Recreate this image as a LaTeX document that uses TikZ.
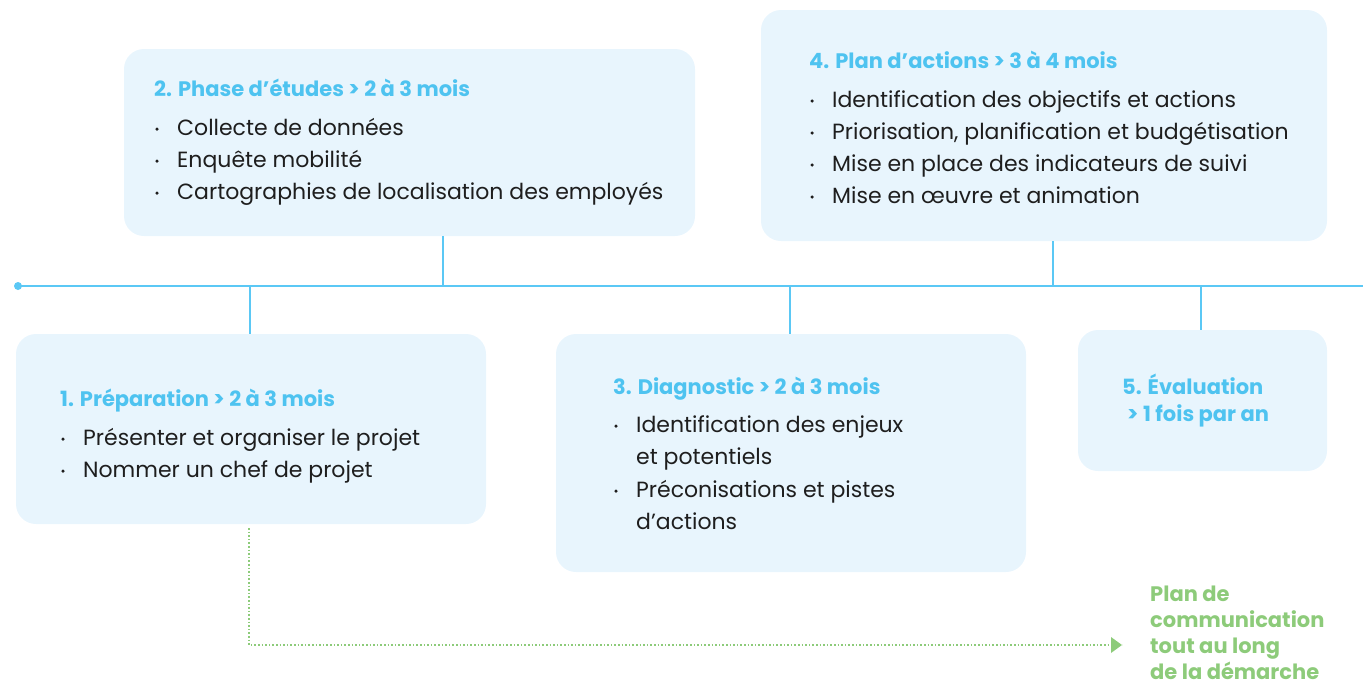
\documentclass[tikz,border=0pt]{standalone}
\usepackage{fontspec}
\setmainfont{Poppins}
\usetikzlibrary{arrows.meta}
\definecolor{boxfill}{HTML}{E8F5FD}
\definecolor{headblue}{HTML}{4EC3F0}
\definecolor{lineblue}{HTML}{5BC8F5}
\definecolor{txt}{HTML}{1E1E1E}
\definecolor{green}{HTML}{8DCB7A}
\tikzset{
  phase/.style={fill=boxfill, draw=none, rounded corners=20pt, inner sep=0pt},
  head/.style={anchor=base west, inner sep=0pt, font=\fontsize{21}{25}\selectfont\bfseries, text=headblue},
  item/.style={anchor=base west, inner sep=0pt, font=\fontsize{22}{26}\selectfont, text=txt},
  bul/.style={circle, fill=txt, inner sep=0pt, minimum size=3.5pt},
  tl/.style={draw=lineblue, line width=2pt},
  comm/.style={draw=green, line width=1.6pt, dotted},
}
\begin{document}
\begin{tikzpicture}[x=1pt,y=-1pt]
\useasboundingbox (0,0) rectangle (1363,686);
% boxes
\node[phase, minimum width=571pt, minimum height=187pt] (b2) at (409.5,142.5) {};
\node[phase, minimum width=566pt, minimum height=231pt] (b4) at (1044,125.5) {};
\node[phase, minimum width=470pt, minimum height=190pt] (b1) at (251,429) {};
\node[phase, minimum width=470pt, minimum height=238pt] (b3) at (791,453) {};
\node[phase, minimum width=249pt, minimum height=141pt] (b5) at (1202.5,400.5) {};
% timeline
\coordinate (t0) at (18,286);
\coordinate (t1) at (1363,286);
\fill[lineblue] (t0) circle (4pt);
\draw[tl] (t0) -- (t1);
\coordinate (c1) at (250,286);
\coordinate (c2) at (443,286);
\coordinate (c3) at (790,286);
\coordinate (c4) at (1053,286);
\coordinate (c5) at (1201,286);
\draw[tl] (c1) -- (c1 |- b1.north);
\draw[tl] (c2) -- (c2 |- b2.south);
\draw[tl] (c3) -- (c3 |- b3.north);
\draw[tl] (c4) -- (c4 |- b4.south);
\draw[tl] (c5) -- (c5 |- b5.north);
% box 2
\node[head] (h2) at (154,96) {2. Phase d’études > 2 à 3 mois};
\node[bul] (d21) at (157,129) {};
\node[item] (i21) at (177,135) {Collecte de données};
\node[bul] (d22) at (157,161) {};
\node[item] (i22) at (177,167) {Enquête mobilité};
\node[bul] (d23) at (157,193) {};
\node[item] (i23) at (177,199) {Cartographies de localisation des employés};
% box 4
\node[head] (h4) at (809,68) {4. Plan d’actions > 3 à 4 mois};
\node[bul] (d41) at (812,101) {};
\node[item] (i41) at (832,107) {Identification des objectifs et actions};
\node[bul] (d42) at (812,133) {};
\node[item] (i42) at (832,139) {Priorisation, planification et budgétisation};
\node[bul] (d43) at (812,165) {};
\node[item] (i43) at (832,171) {Mise en place des indicateurs de suivi};
\node[bul] (d44) at (812,197) {};
\node[item] (i44) at (832,203) {Mise en œuvre et animation};
% box 1
\node[head] (h1) at (60,406) {1. Préparation > 2 à 3 mois};
\node[bul] (d11) at (63,439) {};
\node[item] (i11) at (83,445) {Présenter et organiser le projet};
\node[bul] (d12) at (63,471) {};
\node[item] (i12) at (83,477) {Nommer un chef de projet};
% box 3
\node[head] (h3) at (613,394) {3. Diagnostic > 2 à 3 mois};
\node[bul] (d31) at (616,426) {};
\node[item] (i31) at (636,432) {Identification des enjeux};
\node[item] (i31b) at (636,464) {et potentiels};
\node[bul] (d32) at (616,491) {};
\node[item] (i32) at (636,497) {Préconisations et pistes};
\node[item] (i32b) at (636,529) {d’actions};
% box 5
\node[head] (h5) at (1122,394) {5. Évaluation};
\node[head] (h5b) at (1127,421) {> 1 fois par an};
% communication
\coordinate (g1) at (249,528);
\coordinate (g2) at (249,645);
\node[inner sep=0pt, anchor=north west, align=left, text=green,
      font=\fontsize{21}{26}\selectfont\bfseries] (comm) at (1150,586)
      {Plan de\\communication\\tout au long\\de la démarche};
\coordinate (g3) at (1122,645);
\draw[comm] (g1) -- (g2) -- (g3);
\fill[green] (1111,637) -- (1122,645) -- (1111,653) -- cycle;
\end{tikzpicture}
\end{document}
